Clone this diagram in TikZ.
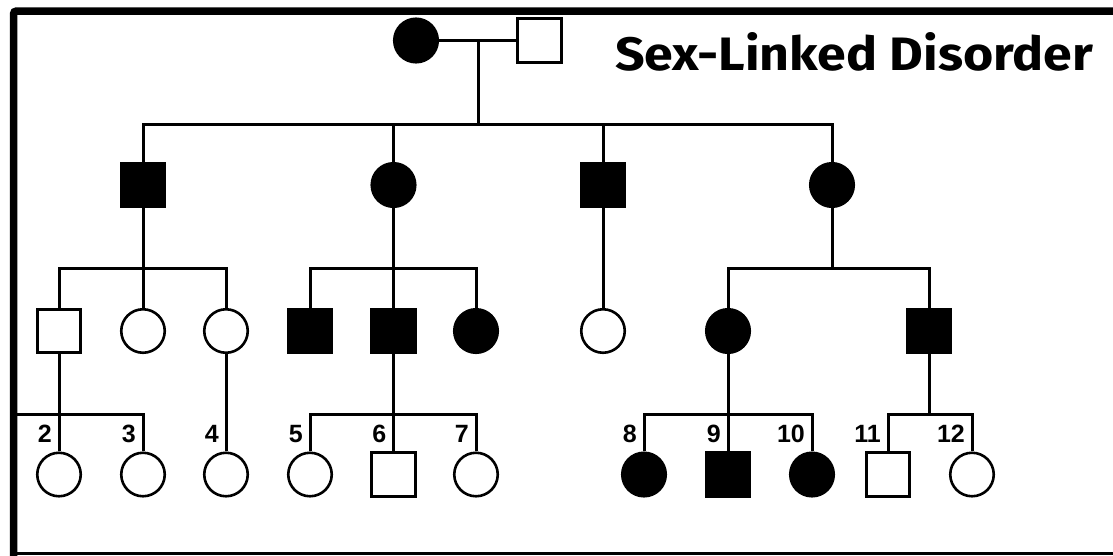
\documentclass[tikz,border=0pt]{standalone}
\usepackage{fontspec}
\setmainfont{Liberation Sans}
\newfontfamily\titlefont{Fira Sans}
\usetikzlibrary{calc}
\begin{document}
\begin{tikzpicture}[x=1pt,y=-1pt,
  ind/.style={draw=black, line width=2.6pt, minimum size=43.5pt, inner sep=0pt, fill=white},
  male/.style={ind, rectangle},
  female/.style={ind, circle},
  aff/.style={fill=black},
  ln/.style={line width=3pt},
  num/.style={font=\bfseries\fontsize{25}{25}\selectfont, anchor=east, inner sep=0pt},
  frame/.style={line width=7.5pt, rounded corners=3pt}
]
\useasboundingbox (0,0) rectangle (1113,555);
\fill[white] (0,0) rectangle (1113,555);
% frame
\draw[frame] (13.5,560) -- (13.5,11) -- (1120,11);
\draw[line width=3pt] (10,553.8) -- (1113,553.8);

% title
\node[anchor=base west, inner sep=0pt] (title) at (615,70)
  {\resizebox{478pt}{38pt}{\titlefont\bfseries Sex-Linked Disorder}};

% level coordinates
\coordinate (s1) at (0,124);
\coordinate (s2) at (0,268);
\coordinate (s3) at (0,414);
\coordinate (edge) at (17,414);

% generation I
\node[female, aff] (I1) at (416,40.5) {};
\node[male] (I2) at (539.5,40.5) {};
\coordinate (m) at (478,40.5);

% generation II
\node[male, aff]   (II1) at (143,185) {};
\node[female, aff] (II2) at (393.5,185) {};
\node[male, aff]   (II3) at (603,185) {};
\node[female, aff] (II4) at (832,185) {};

% generation III
\node[male]        (III1) at (59,331) {};
\node[female]      (III2) at (143,331) {};
\node[female]      (III3) at (226,331) {};
\node[male, aff]   (III4) at (310,331) {};
\node[male, aff]   (III5) at (393.5,331) {};
\node[female, aff] (III6) at (476,331) {};
\node[female]      (III7) at (603,331) {};
\node[female, aff] (III8) at (728,331) {};
\node[male, aff]   (III9) at (929,331) {};

% generation IV
\node[female]      (IV2)  at (59,474.5) {};
\node[female]      (IV3)  at (143,474.5) {};
\node[female]      (IV4)  at (226,474.5) {};
\node[female]      (IV5)  at (310,474.5) {};
\node[male]        (IV6)  at (393.5,474.5) {};
\node[female]      (IV7)  at (476,474.5) {};
\node[female, aff] (IV8)  at (644,474.5) {};
\node[male, aff]   (IV9)  at (728,474.5) {};
\node[female, aff] (IV10) at (812,474.5) {};
\node[male]        (IV11) at (888,474.5) {};
\node[female]      (IV12) at (972,474.5) {};

% connectors: generation I -> II
\draw[ln] (I1.east) -- (I2.west);
\draw[ln] (m) -- (m |- s1);
\draw[ln] (II1.north) |- (II4.north |- s1) -- (II4.north);
\draw[ln] (II2.north) -- (II2.north |- s1);
\draw[ln] (II3.north) -- (II3.north |- s1);

% generation II -> III
\draw[ln] (II1.south) -- (II1.south |- s2);
\draw[ln] (III1.north) |- (III3.north |- s2) -- (III3.north);
\draw[ln] (III2.north) -- (III2.north |- s2);

\draw[ln] (II2.south) -- (II2.south |- s2);
\draw[ln] (III4.north) |- (III6.north |- s2) -- (III6.north);
\draw[ln] (III5.north) -- (III5.north |- s2);

\draw[ln] (II3.south) -- (III7.north);

\draw[ln] (II4.south) -- (II4.south |- s2);
\draw[ln] (III8.north) |- (III9.north |- s2) -- (III9.north);

% generation III -> IV
\draw[ln] (III1.south) -- (III1.south |- s3);
\draw[ln] (edge) -| (IV3.north);
\draw[ln] (IV2.north) -- (IV2.north |- s3);

\draw[ln] (III3.south) -- (IV4.north);

\draw[ln] (III5.south) -- (IV6.north);
\draw[ln] (IV5.north) |- (IV7.north |- s3) -- (IV7.north);

\draw[ln] (III8.south) -- (IV9.north);
\draw[ln] (IV8.north) |- (IV10.north |- s3) -- (IV10.north);

\draw[ln] (III9.south) -- (III9.south |- s3);
\draw[ln] (IV11.north) |- (IV12.north |- s3) -- (IV12.north);

% numbers
\foreach \n in {2,...,12}{
  \node[num] (L\n) at ($(IV\n.north)+(-7,-17.5)$) {\n};
}
\end{tikzpicture}
\end{document}
